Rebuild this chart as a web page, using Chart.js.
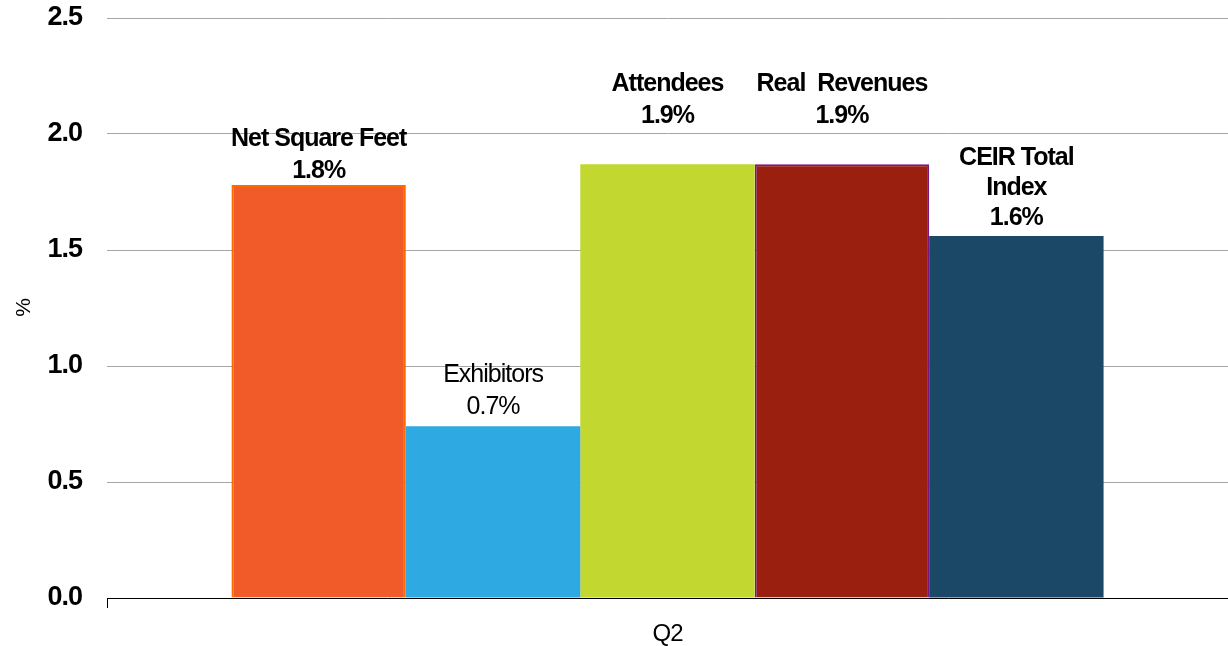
<!DOCTYPE html>
<html>
<head>
<meta charset="utf-8">
<script src="https://cdn.jsdelivr.net/npm/chart.js@4"></script>
<style>
  html, body { margin: 0; padding: 0; background: #fff; }
  #wrap { width: 1228px; height: 646px; }
</style>
</head>
<body>
<div id="wrap"><canvas id="myChart" width="1228" height="646"></canvas></div>
<script>
const categories = ["Q2"];
const seriesNames = ["Net Square Feet", "Exhibitors", "Attendees", "Real Revenues", "CEIR Total Index"];
const seriesValues = [1.78, 0.74, 1.87, 1.87, 1.56];
const labelLines = [["Net Square Feet", "1.8%"], ["Exhibitors", "0.7%"], ["Attendees", "1.9%"], ["Real  Revenues", "1.9%"], ["CEIR Total", "Index", "1.6%"]];
const yTicks = [0, 0.5, 1.0, 1.5, 2.0, 2.5];

const fills = ["#F15A29", "#2EA9E1", "#C2D730", "#9B1F0E", "#1A4866"];
const borders = ["#FF6A00", "#2EA9E1", "#C2D730", "#7E1482", "#1A4866"];
const labelBold = [true, false, true, true, true];
const labelGap = [14, 19, 48, 48, 18];

const FONT = "'Liberation Sans', Arial, sans-serif";

// tighter letters, like the original narrow rendering
const tightText = {
    id: "tightText",
    beforeDraw(chart) {
        chart.ctx.letterSpacing = "-1px";
    }
};

// draws the text block above each bar
const barLabels = {
    id: "barLabels",
    afterDatasetsDraw(chart) {
        const ctx = chart.ctx;
        ctx.save();
        ctx.letterSpacing = "-1px";
        ctx.fillStyle = "#000";
        ctx.textAlign = "center";
        ctx.textBaseline = "middle";
        chart.data.datasets.forEach((ds, i) => {
            const bar = chart.getDatasetMeta(i).data[0];
            const lines = labelLines[i];
            ctx.font = (labelBold[i] ? "bold " : "") + "25px " + FONT;
            const lineH = lines.length > 2 ? 30 : 32;
            lines.forEach((line, k) => {
                const y = bar.y - labelGap[i] - (lines.length - 1 - k) * lineH;
                ctx.fillText(line, bar.x, y);
            });
        });
        ctx.restore();
    }
};

new Chart(document.getElementById("myChart").getContext("2d"), {
    type: "bar",
    data: {
        labels: categories,
        datasets: seriesNames.map((name, i) => ({
            label: name,
            data: [seriesValues[i]],
            backgroundColor: fills[i],
            borderColor: borders[i],
            borderWidth: (i === 0 || i === 3) ? 2 : 0,
            categoryPercentage: 0.778,
            barPercentage: 1.0,
        })),
    },
    options: {
        responsive: false,
        animation: false,
        layout: { padding: { top: 18, right: 0, left: 0, bottom: 0 } },
        plugins: {
            legend: { display: false },
            tooltip: { enabled: false },
        },
        scales: {
            x: {
                grid: { drawOnChartArea: false, drawTicks: true, tickLength: 10, color: "#000", offset: true },
                border: { display: true, color: "#000", width: 1 },
                ticks: {
                    color: "#000",
                    padding: 12,
                    font: { family: FONT, size: 24 },
                },
                afterFit: (scale) => { scale.height = 48; },
            },
            y: {
                min: 0,
                max: 2.5,
                afterBuildTicks: (scale) => { scale.ticks = yTicks.map(v => ({ value: v })); },
                grid: { color: "#a6a6a6", lineWidth: 1, drawTicks: false },
                border: { display: false },
                ticks: {
                    color: "#000",
                    padding: 25,
                    font: { family: FONT, size: 27, weight: "bold" },
                    callback: (v) => Number(v).toFixed(1),
                },
                title: {
                    display: true,
                    text: "%",
                    color: "#000",
                    padding: { top: 12, bottom: 0 },
                    font: { family: FONT, size: 21 },
                },
                afterFit: (scale) => {
                    scale.width = 107;
                    scale.paddingTop = 0;
                    scale.paddingBottom = 0;
                },
            },
        },
    },
    plugins: [tightText, barLabels],
});
</script>
</body>
</html>
